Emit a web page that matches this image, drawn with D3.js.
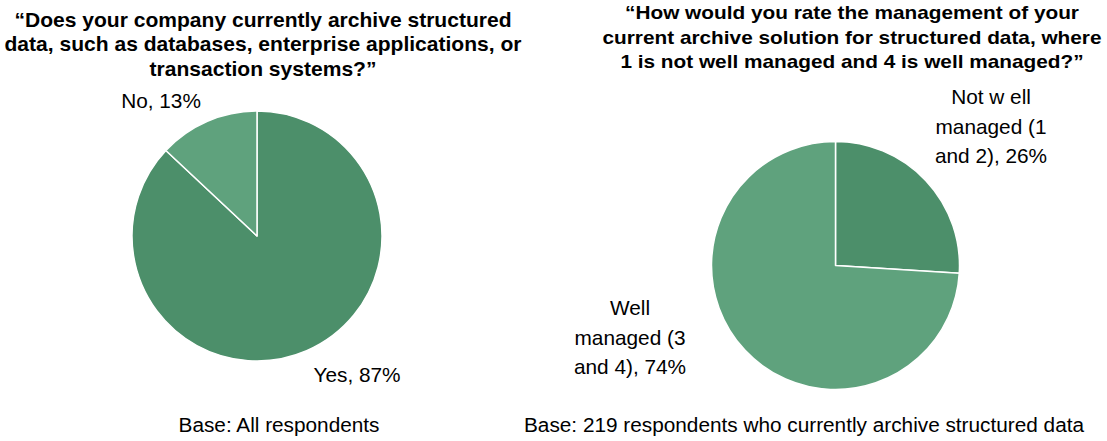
<!DOCTYPE html>
<html>
<head>
<meta charset="utf-8">
<script src="https://cdn.jsdelivr.net/npm/d3@7"></script>
<style>
  html, body { margin: 0; padding: 0; background: #fff; }
  svg { display: block; font-family: "Liberation Sans", Arial, sans-serif; }
</style>
</head>
<body>
<svg id="chart" width="1107" height="441"></svg>
<script>
// Survey question 1: archiving of structured data
const archiveLabels = ["Yes", "No"];
const archiveValues = [87, 13];
const archiveTitle = [
  "“Does your company currently archive structured",
  "data, such as databases, enterprise applications, or",
  "transaction systems?”"
];
const archiveBase = "Base: All respondents";

// Survey question 2: rating of archive management
const ratingLabelLines = [
  ["Not w ell", "managed (1", "and 2),"],
  ["Well", "managed (3", "and 4),"]
];
const ratingValues = [26, 74];
const ratingTitle = [
  "“How would you rate the management of your",
  "current archive solution for structured data, where",
  "1 is not well managed and 4 is well managed?”"
];
const ratingBase = "Base: 219 respondents who currently archive structured data";

const darkGreen = "#4c8f6a";
const lightGreen = "#5fa27d";

const svg = d3.select("#chart");

// Stretched text block centred on cx
function drawTextBlock(lines, cx, y0, step, size, weight, sx) {
  const t = svg.append("text")
    .attr("transform", `translate(${cx},0) scale(${sx},1)`)
    .attr("text-anchor", "middle")
    .attr("font-weight", weight)
    .attr("font-size", size)
    .attr("fill", "#000");
  lines.forEach((l, i) => {
    t.append("tspan").attr("x", 0).attr("y", y0 + i * step).text(l);
  });
}

function drawPie(values, colors, cx, cy, r) {
  const pie = d3.pie().sort(null).value(d => d);
  const arc = d3.arc().innerRadius(0).outerRadius(r);
  const g = svg.append("g").attr("transform", `translate(${cx},${cy})`);
  g.selectAll("path")
    .data(pie(values))
    .join("path")
    .attr("d", arc)
    .attr("fill", (d, i) => colors[i])
    .attr("stroke", "#fff")
    .attr("stroke-width", 1.5)
    .attr("stroke-linejoin", "round");
}

function drawLabel(lines, x, y) {
  drawTextBlock(lines, x, y, 29.5, 20.8, "normal", 1);
}

// Left chart
drawTextBlock(archiveTitle, 263, 27, 24.5, 19.5, "bold", 1.08);
drawPie(archiveValues, [darkGreen, lightGreen], 257, 236, 125);
drawLabel([`${archiveLabels[1]}, ${archiveValues[1]}%`], 161, 108);
drawLabel([`${archiveLabels[0]}, ${archiveValues[0]}%`], 357, 382);

// Right chart
drawTextBlock(ratingTitle, 852, 19.5, 24.5, 19, "bold", 1.095);
drawPie(ratingValues, [darkGreen, lightGreen], 835.5, 265.5, 124);
ratingLabelLines.forEach((lines, i) => {
  const withValue = lines.slice(0, -1).concat(`${lines[lines.length - 1]} ${ratingValues[i]}%`);
  if (i === 0) drawLabel(withValue, 991, 104);
  else drawLabel(withValue, 630, 315);
});

// Base notes
drawTextBlock([archiveBase], 279, 432, 0, 19.5, "normal", 1.066);
drawTextBlock([ratingBase], 804, 432, 0, 19.5, "normal", 1.066);
</script>
</body>
</html>
